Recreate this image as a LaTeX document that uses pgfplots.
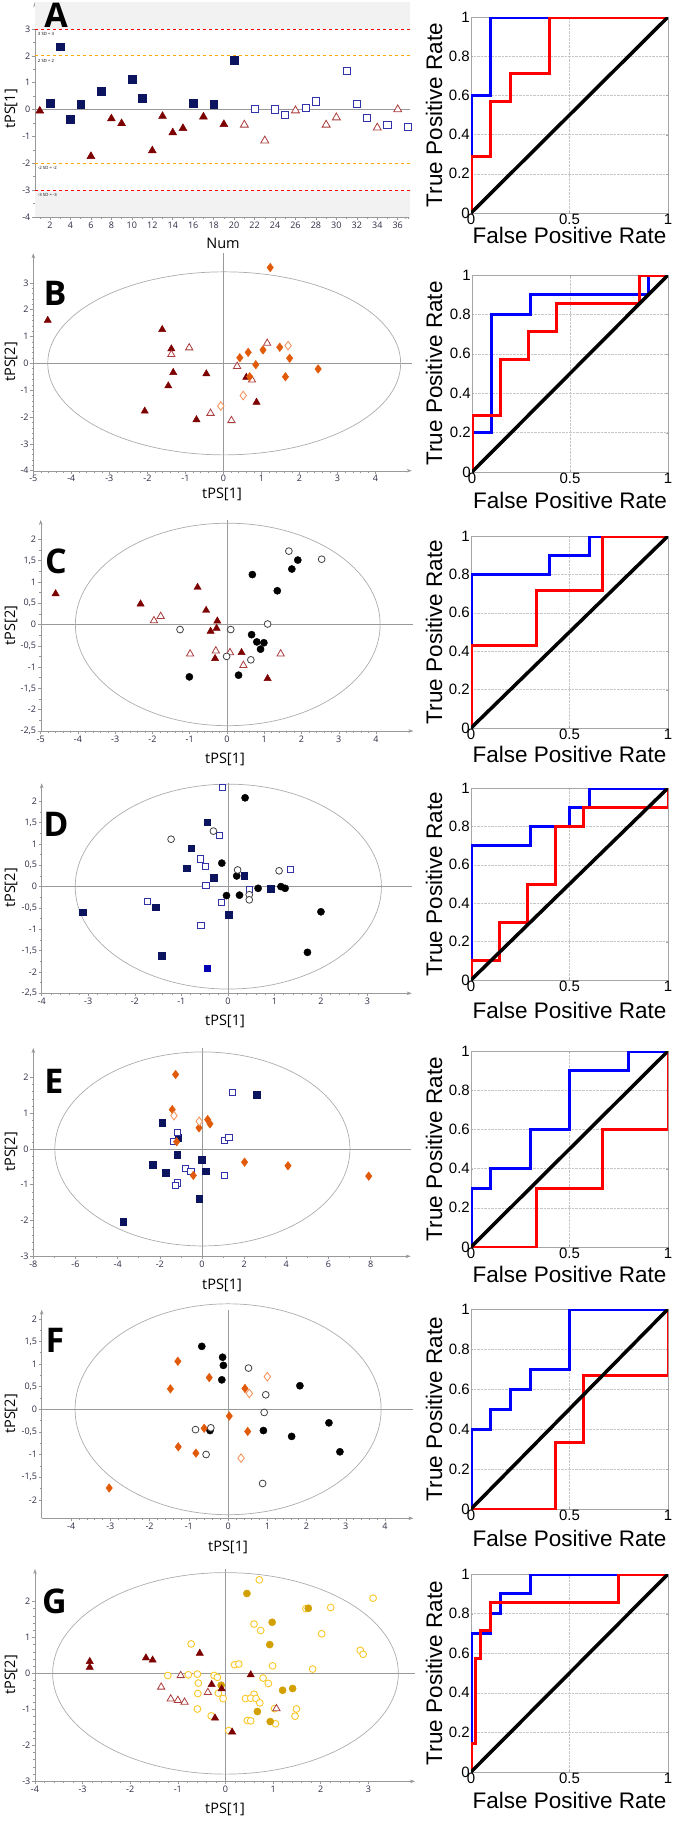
\documentclass[border=0pt]{standalone}
\usepackage{fontspec}
\usepackage{pgfplots}
\pgfplotsset{compat=1.18}
\usetikzlibrary{arrows.meta}
\newfontfamily\segoe{Open Sans}
\newfontfamily\arial{Liberation Sans}
\definecolor{navy}{RGB}{12,20,95}
\definecolor{osq}{RGB}{50,50,170}
\definecolor{dred}{RGB}{125,0,0}
\definecolor{otri}{RGB}{170,60,60}
\definecolor{oran}{RGB}{225,90,10}
\definecolor{oranl}{RGB}{245,140,80}
\definecolor{goldf}{RGB}{210,160,0}
\definecolor{goldo}{RGB}{250,200,40}
\definecolor{lbl}{RGB}{45,45,70}
\definecolor{sdorange}{RGB}{250,170,0}
\pgfplotsset{
  lp/.style={scale only axis, axis lines=left, clip=false, anchor=south west,
    axis line style={draw=gray!80},
    x axis line style={-{Stealth[length=5pt,width=3.5pt]}},
    y axis line style={-{Stealth[length=5pt,width=3.5pt]}},
    tick align=outside, major tick length=3pt, minor tick length=1.8pt,
    tick style={gray!80, line width=0.5pt},
    tick label style={font=\segoe\fontsize{9}{9}\selectfont, text=lbl, inner sep=1.5pt},
    /pgf/number format/assume math mode=true},
  roc/.style={scale only axis, xmin=0,xmax=1,ymin=0,ymax=1, anchor=south west,
    xtick={0,0.5,1}, ytick={0,0.2,0.4,0.6,0.8,1},
    grid=major, grid style={densely dotted, gray!45, line width=0.5pt},
    axis line style={gray!70}, tick align=inside, major tick length=2pt,
    tick style={gray!70},
    tick label style={font=\arial\fontsize{15}{15}\selectfont, inner sep=1pt},
    /pgf/number format/assume math mode=true},
  fsq/.style={only marks, mark=square*, mark size=3.3pt, mark options={draw=navy, fill=navy}},
  osq/.style={only marks, mark=square*, mark size=3.1pt, mark options={draw=osq, fill=white, line width=0.9pt}},
  ftri/.style={only marks, mark=triangle*, mark size=4.2pt, mark options={draw=dred, fill=dred}},
  otri/.style={only marks, mark=triangle*, mark size=4.2pt, mark options={draw=otri, fill=white, line width=0.8pt}},
  fdia/.style={only marks, mark=diamond*, mark size=4.3pt, mark options={draw=oran, fill=oran}},
  odia/.style={only marks, mark=diamond*, mark size=4.3pt, mark options={draw=oranl, fill=white, line width=0.8pt}},
  fcir/.style={only marks, mark=*, mark size=3.6pt, mark options={draw=black, fill=black}},
  ocir/.style={only marks, mark=*, mark size=3.4pt, mark options={draw=black!75, fill=white, line width=0.8pt}},
  fgold/.style={only marks, mark=*, mark size=3.6pt, mark options={draw=goldf, fill=goldf}},
  ogold/.style={only marks, mark=*, mark size=3.4pt, mark options={draw=goldo, fill=white, line width=0.9pt}},
  bl/.style={blue, line width=3pt, line join=miter},
  rd/.style={red, line width=3pt, line join=miter},
  dg/.style={black, line width=3.5pt},
}
\newcommand{\lfont}{\segoe\fontsize{14.5}{14.5}\selectfont}
\newcommand{\rfont}{\arial\fontsize{22.5}{22.5}\selectfont}
\newcommand{\pfont}{\segoe\bfseries\fontsize{34}{34}\selectfont}
\newcommand{\sdfont}{\segoe\fontsize{4.3}{4.3}\selectfont}
\begin{document}
\begin{tikzpicture}[x=1pt,y=1pt]
\path[use as bounding box] (0,0) rectangle (675,-1824);

%% ================= A =================
\begin{axis}[lp, at={(35pt,-217pt)}, width=375pt, height=215pt,
  xmin=0.53, xmax=37.2, ymin=-4, ymax=4,
  xtick={2,4,...,36}, minor xtick={1,3,...,37}, ytick={-4,...,3}, minor y tick num=1]
\fill[gray!10] (axis cs:0.53,3) rectangle (axis cs:37.2,4);
\fill[gray!10] (axis cs:0.53,-4) rectangle (axis cs:37.2,-3);
\draw[gray!80, line width=0.7pt] (axis cs:0.53,0) -- (axis cs:37.2,0);
\draw[red, dashed, line width=0.6pt] (axis cs:0.53,3) -- (axis cs:37.2,3);
\draw[red, dashed, line width=0.6pt] (axis cs:0.53,-3) -- (axis cs:37.2,-3);
\draw[sdorange, dashed, line width=0.6pt] (axis cs:0.53,2) -- (axis cs:37.2,2);
\draw[sdorange, dashed, line width=0.6pt] (axis cs:0.53,-2) -- (axis cs:37.2,-2);
\node[anchor=north west, font=\sdfont, inner sep=0.5pt] at (axis cs:0.75,2.9) {3 SD = 3};
\node[anchor=north west, font=\sdfont, inner sep=0.5pt] at (axis cs:0.75,1.9) {2 SD = 2};
\node[anchor=north west, font=\sdfont, inner sep=0.5pt] at (axis cs:0.75,-2.1) {-2 SD = -2};
\node[anchor=north west, font=\sdfont, inner sep=0.5pt] at (axis cs:0.75,-3.1) {-3 SD = -3};
\addplot[fsq, mark size=3.9pt] coordinates {(2,0.22)(3,2.34)(4,-0.37)(5,0.2)(7,0.68)(10,1.13)(11,0.41)(16,0.22)(18,0.19)(20,1.84)};
\addplot[ftri, mark size=4.6pt] coordinates {(1,-0.05)(6,-1.74)(8,-0.34)(9,-0.52)(12,-1.53)(13,-0.25)(14,-0.86)(15,-0.70)(17,-0.27)(19,-0.55)};
\addplot[osq, mark size=3.6pt] coordinates {(22,0.03)(24,0.0)(25,-0.19)(27,0.07)(28,0.30)(31,1.43)(32,0.22)(33,-0.3)(35,-0.57)(37,-0.66)};
\addplot[otri, mark size=4.6pt] coordinates {(21,-0.57)(23,-1.16)(26,-0.04)(29,-0.57)(30,-0.3)(34,-0.68)(36,0.0)};
\end{axis}
\node[font=\lfont] at (223,-243) {Num};
\node[font=\lfont, rotate=90] at (11,-109) {tPS[1]};
\node[font=\pfont, inner sep=0] at (56,-15) {A};

\begin{axis}[roc, at={(471pt,-213pt)}, width=197pt, height=196pt]
\addplot[bl] coordinates {(0,0)(0,0.6)(0.1,0.6)(0.1,1)(1,1)};
\addplot[rd] coordinates {(0,0)(0,0.286)(0.1,0.286)(0.1,0.571)(0.2,0.571)(0.2,0.714)(0.4,0.714)(0.4,1)(1,1)};
\addplot[dg] coordinates {(0,0)(1,1)};
\end{axis}
\node[font=\rfont, rotate=90] at (434,-115) {True Positive Rate};
\node[font=\rfont] at (569.5,-235) {False Positive Rate};

%% ================= B =================
\begin{axis}[lp, at={(33.3pt,-470.7pt)}, width=378.4pt, height=217.4pt,
  xmin=-5, xmax=4.95, ymin=-4, ymax=4.1,
  xtick={-5,...,4}, ytick={-4,...,3}, minor tick num=4]
\draw[gray!80, line width=0.6pt] (axis cs:0,-4) -- (axis cs:0,4.1);
\draw[gray!80, line width=0.6pt] (axis cs:-5,0) -- (axis cs:4.95,0);
\draw[gray!65, line width=0.7pt] (axis cs:0.02,0) ellipse [x radius=4.64, y radius=3.41];
\addplot[ftri] coordinates {(-4.62,1.6)(-1.61,1.26)(-1.37,0.54)(-1.32,-0.34)(-1.45,-0.84)(-2.07,-1.78)(-0.45,-0.39)(-0.71,-2.1)(0.60,-0.52)(0.87,-1.45)};
\addplot[otri] coordinates {(-1.37,0.33)(-0.90,0.58)(0.36,-0.11)(0.75,-0.62)(-0.34,-1.86)(0.21,-2.13)(1.15,0.75)};
\addplot[fdia] coordinates {(1.23,3.57)(0.43,0.21)(0.65,0.41)(1.04,0.5)(1.48,0.6)(1.74,0.19)(0.85,-0.05)(1.63,-0.5)(2.49,-0.21)(0.69,-0.5)};
\addplot[odia] coordinates {(1.70,0.66)(0.52,-1.2)(-0.07,-1.59)};
\end{axis}
\node[font=\lfont] at (222,-494) {tPS[1]};
\node[font=\lfont, rotate=90] at (11,-362) {tPS[2]};
\node[font=\pfont, inner sep=0] at (55,-293.5) {B};

\begin{axis}[roc, at={(472pt,-472pt)}, width=196pt, height=197pt]
\addplot[bl] coordinates {(0,0)(0,0.2)(0.1,0.2)(0.1,0.8)(0.3,0.8)(0.3,0.9)(0.9,0.9)(0.9,1)(1,1)};
\addplot[rd] coordinates {(0,0)(0,0.286)(0.143,0.286)(0.143,0.571)(0.286,0.571)(0.286,0.714)(0.429,0.714)(0.429,0.857)(0.857,0.857)(0.857,1)(1,1)};
\addplot[dg] coordinates {(0,0)(1,1)};
\end{axis}
\node[font=\rfont, rotate=90] at (434,-373.5) {True Positive Rate};
\node[font=\rfont] at (570,-500) {False Positive Rate};

%% ================= C =================
\begin{axis}[lp, at={(40.7pt,-731pt)}, width=372.6pt, height=211pt,
  xmin=-5, xmax=5, ymin=-2.5, ymax=2.45,
  xtick={-5,...,4}, ytick={-2.5,-2,...,2}, minor x tick num=4, minor y tick num=1,
  /pgf/number format/use comma]
\draw[gray!80, line width=0.6pt] (axis cs:0,-2.5) -- (axis cs:0,2.45);
\draw[gray!80, line width=0.6pt] (axis cs:-5,0) -- (axis cs:5,0);
\draw[gray!65, line width=0.7pt] (axis cs:0.02,0) ellipse [x radius=4.09, y radius=2.375];
\addplot[ftri] coordinates {(-4.6,0.72)(-2.32,0.48)(-0.79,0.87)(-0.56,0.33)(-0.26,0.08)(-0.28,-0.09)(-0.44,-0.16)(0.39,-0.66)(-0.32,-0.8)(1.09,-1.27)};
\addplot[otri] coordinates {(-1.96,0.09)(-1.78,0.19)(-0.99,-0.69)(-0.30,-0.62)(0.08,-0.66)(0.44,-0.96)(1.44,-0.69)};
\addplot[fcir] coordinates {(0.68,1.17)(1.90,1.51)(1.74,1.30)(1.35,0.79)(0.66,-0.24)(0.80,-0.41)(0.99,-0.43)(0.90,-0.58)(-1.01,-1.23)(0.31,-1.19)};
\addplot[ocir] coordinates {(1.66,1.72)(2.54,1.53)(1.09,0.01)(-1.26,-0.12)(0.10,-0.12)(-0.01,-0.75)(0.64,-0.83)};
\end{axis}
\node[font=\lfont] at (225,-759) {tPS[1]};
\node[font=\lfont, rotate=90] at (11,-625.5) {tPS[2]};
\node[font=\pfont, inner sep=0] at (56,-561) {C};

\begin{axis}[roc, at={(471pt,-728pt)}, width=197pt, height=192pt]
\addplot[bl] coordinates {(0,0)(0,0.8)(0.4,0.8)(0.4,0.9)(0.6,0.9)(0.6,1)(1,1)};
\addplot[rd] coordinates {(0,0)(0,0.429)(0.333,0.429)(0.333,0.714)(0.667,0.714)(0.667,1)(1,1)};
\addplot[dg] coordinates {(0,0)(1,1)};
\end{axis}
\node[font=\rfont, rotate=90] at (434,-632) {True Positive Rate};
\node[font=\rfont] at (569.5,-754) {False Positive Rate};

%% ================= D =================
\begin{axis}[lp, at={(41.7pt,-993.3pt)}, width=370pt, height=210pt,
  xmin=-4, xmax=3.95, ymin=-2.5, ymax=2.42,
  xtick={-4,...,3}, ytick={-2.5,-2,...,2}, minor x tick num=4, minor y tick num=1,
  /pgf/number format/use comma]
\draw[gray!80, line width=0.6pt] (axis cs:0,-2.5) -- (axis cs:0,2.42);
\draw[gray!80, line width=0.6pt] (axis cs:-4,0) -- (axis cs:3.95,0);
\draw[gray!65, line width=0.7pt] (axis cs:0.01,0) ellipse [x radius=3.29, y radius=2.40];
\addplot[fsq] coordinates {(-0.44,1.51)(-0.79,0.90)(-0.89,0.43)(-0.31,0.21)(0.35,0.25)(0.92,-0.05)(0.02,-0.66)(-1.55,-0.48)(-3.12,-0.60)(-1.42,-1.62)};
\addplot[fsq, mark options={draw=blue!70!black, fill=blue!70!black}] coordinates {(-0.44,-1.91)};
\addplot[osq] coordinates {(-0.11,2.32)(-0.18,1.20)(-0.59,0.65)(-0.49,0.47)(-0.47,0.03)(-1.72,-0.35)(-0.13,-0.37)(-0.58,-0.91)(0.46,-0.06)(1.34,0.41)};
\addplot[fcir] coordinates {(0.37,2.08)(-0.13,0.55)(0.19,0.25)(-0.03,-0.21)(0.25,-0.20)(0.65,-0.04)(1.14,0.0)(1.23,-0.04)(2.00,-0.59)(1.71,-1.54)};
\addplot[ocir] coordinates {(-1.22,1.11)(-0.31,1.30)(0.21,0.39)(1.10,0.37)(0.46,-0.19)(0.46,-0.31)};
\end{axis}
\node[font=\lfont] at (225,-1021) {tPS[1]};
\node[font=\lfont, rotate=90] at (11,-888) {tPS[2]};
\node[font=\pfont, inner sep=0] at (56,-824) {D};

\begin{axis}[roc, at={(471pt,-980pt)}, width=197pt, height=192pt]
\addplot[bl] coordinates {(0,0)(0,0.7)(0.3,0.7)(0.3,0.8)(0.5,0.8)(0.5,0.9)(0.6,0.9)(0.6,1)(1,1)};
\addplot[rd] coordinates {(0,0)(0,0.1)(0.143,0.1)(0.143,0.3)(0.286,0.3)(0.286,0.5)(0.429,0.5)(0.429,0.8)(0.571,0.8)(0.571,0.9)(1,0.9)(1,1)};
\addplot[dg] coordinates {(0,0)(1,1)};
\end{axis}
\node[font=\rfont, rotate=90] at (434,-884) {True Positive Rate};
\node[font=\rfont] at (569.5,-1010) {False Positive Rate};

%% ================= E =================
\begin{axis}[lp, at={(33.3pt,-1256.3pt)}, width=377.4pt, height=208.3pt,
  xmin=-8, xmax=9.9, ymin=-3, ymax=2.82,
  xtick={-8,-6,...,8}, ytick={-3,...,2}, minor x tick num=1, minor y tick num=4]
\draw[gray!80, line width=0.6pt] (axis cs:0,-3) -- (axis cs:0,2.82);
\draw[gray!80, line width=0.6pt] (axis cs:-8,0) -- (axis cs:9.9,0);
\draw[gray!65, line width=0.7pt] (axis cs:0.02,0) ellipse [x radius=7.0, y radius=2.71];
\addplot[fsq] coordinates {(-1.88,0.73)(2.59,1.52)(-1.12,0.31)(-1.17,-0.16)(-2.34,-0.44)(-1.71,-0.67)(0.0,-0.30)(0.19,-0.62)(-0.14,-1.39)(-3.73,-2.04)};
\addplot[osq] coordinates {(1.45,1.58)(-1.15,0.45)(-1.36,0.21)(1.06,0.23)(1.28,0.31)(-0.79,-0.55)(-0.52,-0.62)(1.06,-0.74)(-1.15,-0.95)(-1.25,-1.01)};
\addplot[fdia] coordinates {(-1.25,2.08)(-1.41,1.10)(-0.14,0.59)(0.27,0.82)(0.38,0.70)(-1.20,0.20)(-0.41,-0.74)(2.02,-0.37)(4.08,-0.47)(7.91,-0.76)};
\addplot[odia] coordinates {(-1.33,0.93)(-0.13,0.77)};
\end{axis}
\node[font=\lfont] at (222,-1285) {tPS[1]};
\node[font=\lfont, rotate=90] at (11,-1152) {tPS[2]};
\node[font=\pfont, inner sep=0] at (54,-1081.5) {E};

\begin{axis}[roc, at={(471pt,-1247pt)}, width=197pt, height=196pt]
\addplot[bl] coordinates {(0,0)(0,0.3)(0.1,0.3)(0.1,0.4)(0.3,0.4)(0.3,0.6)(0.5,0.6)(0.5,0.9)(0.8,0.9)(0.8,1)(1,1)};
\addplot[rd] coordinates {(0,0)(0.333,0)(0.333,0.3)(0.667,0.3)(0.667,0.6)(1,0.6)(1,1)};
\addplot[dg] coordinates {(0,0)(1,1)};
\end{axis}
\node[font=\rfont, rotate=90] at (434,-1149) {True Positive Rate};
\node[font=\rfont] at (569.5,-1274) {False Positive Rate};

%% ================= F =================
\begin{axis}[lp, at={(41.7pt,-1518.3pt)}, width=371.6pt, height=208.6pt,
  xmin=-4.75, xmax=4.72, ymin=-2.41, ymax=2.2,
  xtick={-4,...,4}, ytick={-2,-1.5,...,2}, minor x tick num=4, minor y tick num=1,
  /pgf/number format/use comma]
\draw[gray!80, line width=0.6pt] (axis cs:0,-2.41) -- (axis cs:0,2.2);
\draw[gray!80, line width=0.6pt] (axis cs:-4.75,0) -- (axis cs:4.72,0);
\draw[gray!65, line width=0.7pt] (axis cs:0,0) ellipse [x radius=3.9, y radius=2.33];
\addplot[fcir] coordinates {(-0.67,1.39)(-0.14,1.15)(-0.12,0.97)(-0.16,0.65)(1.83,0.52)(-0.46,-0.47)(0.90,-0.47)(1.62,-0.60)(2.57,-0.30)(2.85,-0.94)};
\addplot[ocir] coordinates {(0.52,0.91)(0.96,0.32)(0.92,-0.07)(-0.44,-0.41)(-0.83,-0.45)(-0.56,-1.0)(0.88,-1.64)};
\addplot[fdia] coordinates {(-1.28,1.06)(-0.48,0.70)(-1.47,0.45)(0.43,0.46)(0.03,-0.15)(-0.61,-0.42)(0.50,-0.49)(-1.27,-0.83)(-0.82,-0.97)(-3.03,-1.74)};
\addplot[odia] coordinates {(1.0,0.72)(0.54,0.35)(0.33,-1.08)};
\end{axis}
\node[font=\lfont] at (228,-1547) {tPS[1]};
\node[font=\lfont, rotate=90] at (11,-1414) {tPS[2]};
\node[font=\pfont, inner sep=0] at (55,-1340) {F};

\begin{axis}[roc, at={(471pt,-1509pt)}, width=197pt, height=200pt]
\addplot[bl] coordinates {(0,0)(0,0.4)(0.1,0.4)(0.1,0.5)(0.2,0.5)(0.2,0.6)(0.3,0.6)(0.3,0.7)(0.5,0.7)(0.5,1)(1,1)};
\addplot[rd] coordinates {(0,0)(0.429,0)(0.429,0.333)(0.571,0.333)(0.571,0.667)(1,0.667)(1,1)};
\addplot[dg] coordinates {(0,0)(1,1)};
\end{axis}
\node[font=\rfont, rotate=90] at (434,-1409) {True Positive Rate};
\node[font=\rfont] at (569.5,-1538.5) {False Positive Rate};

%% ================= G =================
\begin{axis}[lp, at={(35pt,-1781.3pt)}, width=380pt, height=212.3pt,
  xmin=-4, xmax=3.98, ymin=-3, ymax=2.9,
  xtick={-4,...,3}, ytick={-3,...,2}, minor tick num=4]
\draw[gray!80, line width=0.6pt] (axis cs:0,-3) -- (axis cs:0,2.9);
\draw[gray!80, line width=0.6pt] (axis cs:-4,0) -- (axis cs:3.98,0);
\draw[gray!65, line width=0.7pt] (axis cs:0,0) ellipse [x radius=3.63, y radius=2.8];
\addplot[ogold] coordinates {(0.71,2.6)(3.10,2.09)(2.21,1.83)(1.69,1.80)(0.60,1.37)(0.74,1.19)(2.02,1.10)(-0.72,0.82)(2.83,0.64)(2.89,0.53)(0.19,0.24)(0.28,0.26)(0.99,0.21)(1.83,0.12)(-1.21,-0.06)(-0.78,-0.04)(-0.59,-0.02)(-0.24,-0.06)(-0.17,-0.11)(-0.57,-0.27)(-0.58,-0.56)(0.79,-0.13)(0.90,-0.28)(0.60,-0.58)(0.42,-0.70)(0.53,-0.69)(0.64,-0.70)(0.72,-0.82)(-0.15,-0.55)(-0.05,-0.70)(-0.59,-0.99)(-0.30,-1.18)(0.46,-1.31)(0.53,-1.32)(1.05,-1.40)(1.03,-0.98)(1.49,-0.99)(1.46,-1.19)(0.07,-1.59)};
\addplot[fgold] coordinates {(0.45,2.22)(1.74,1.81)(0.98,1.42)(0.93,0.80)(-0.09,-0.33)(1.20,-0.47)(1.41,-0.42)(0.67,-1.06)(0.94,-1.34)};
\addplot[otri] coordinates {(-1.35,-0.38)(-1.15,-0.71)(-1.0,-0.75)(-0.86,-0.8)(-0.94,-0.06)(-0.37,-0.53)(1.07,-0.98)};
\addplot[ftri] coordinates {(-2.85,0.33)(-2.85,0.17)(-1.67,0.43)(-1.53,0.37)(-0.54,0.56)(-0.29,-0.31)(-0.08,-0.43)(-0.22,-1.24)(0.14,-1.63)(0.53,-0.04)};
\end{axis}
\node[font=\lfont] at (225,-1809) {tPS[1]};
\node[font=\lfont, rotate=90] at (11,-1675) {tPS[2]};
\node[font=\pfont, inner sep=0] at (54.5,-1601) {G};

\begin{axis}[roc, at={(471pt,-1772pt)}, width=197pt, height=198pt]
\addplot[bl] coordinates {(0,0)(0,0.7)(0.1,0.7)(0.1,0.8)(0.15,0.8)(0.15,0.9)(0.3,0.9)(0.3,1)(1,1)};
\addplot[rd] coordinates {(0,0)(0,0.143)(0.025,0.143)(0.025,0.571)(0.05,0.571)(0.05,0.714)(0.1,0.714)(0.1,0.857)(0.75,0.857)(0.75,1)(1,1)};
\addplot[dg] coordinates {(0,0)(1,1)};
\end{axis}
\node[font=\rfont, rotate=90] at (434,-1673) {True Positive Rate};
\node[font=\rfont] at (569.5,-1800) {False Positive Rate};
\end{tikzpicture}
\end{document}
